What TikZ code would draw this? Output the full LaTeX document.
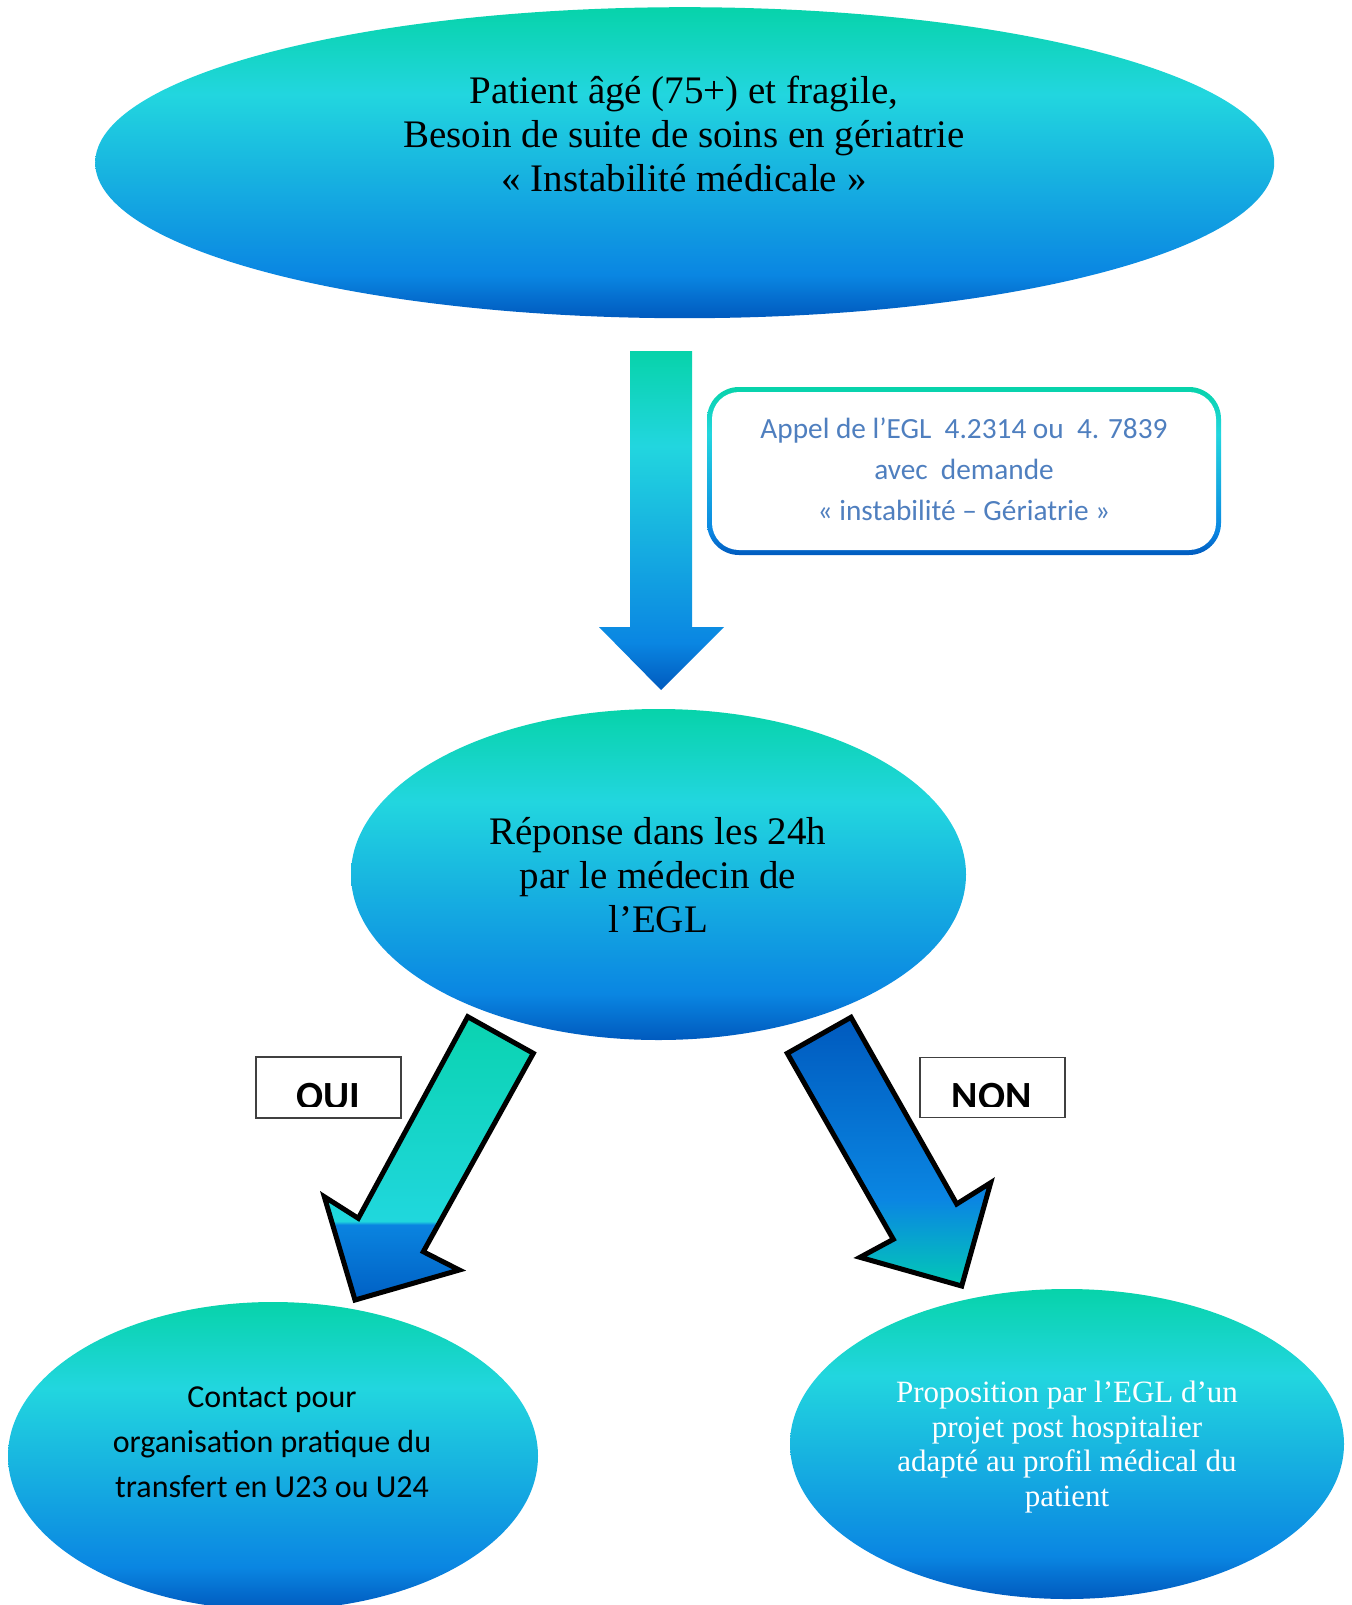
\documentclass[tikz,border=0pt]{standalone}
\usepackage{fontspec}
\setmainfont{Liberation Serif}
\newfontfamily\calfont{Carlito}
\usetikzlibrary{shapes.geometric}
\definecolor{greenx}{HTML}{07D3AA}
\definecolor{cyanx}{HTML}{22D6DF}
\definecolor{mblue}{HTML}{0A86E2}
\definecolor{dblue}{HTML}{005ABE}
\definecolor{ogreen}{HTML}{0AD3B0}
\definecolor{ocyan}{HTML}{20D7DD}
\definecolor{oblue}{HTML}{0A84E0}
\definecolor{odblue}{HTML}{0060C4}
\definecolor{nteal}{HTML}{03C9B6}
\definecolor{calltext}{HTML}{4F7FBF}
\pgfdeclareverticalshading{ellshade}{100bp}{color(0bp)=(dblue); color(25bp)=(dblue); color(32bp)=(mblue); color(61bp)=(cyanx); color(75bp)=(greenx); color(100bp)=(greenx)}
\pgfdeclareverticalshading{ouishade}{100bp}{color(0bp)=(odblue); color(25bp)=(odblue); color(38.3bp)=(oblue); color(38.9bp)=(ocyan); color(75bp)=(ogreen); color(100bp)=(ogreen)}
\pgfdeclareverticalshading{nonshade}{100bp}{color(0bp)=(nteal); color(25bp)=(nteal); color(41bp)=(mblue); color(75bp)=(dblue); color(100bp)=(dblue)}
\begin{document}
\begin{tikzpicture}[x=1pt,y=-1pt,
  ell/.style={ellipse, shading=ellshade, draw=none, inner sep=0pt},
  blockarrow/.style={draw=black, line width=5pt, line join=miter},
  labbox/.style={draw=black!75, line width=1.6pt, inner sep=0pt},
  serifbig/.style={align=center, font=\fontsize{39}{44}\selectfont, text=black},
  sansmid/.style={align=center, font=\calfont\fontsize{32}{45}\selectfont, text=black},
  bold/.style={font=\calfont\bfseries\fontsize{40}{40}\selectfont, anchor=base, inner sep=0pt}]
\useasboundingbox (0,0) rectangle (1351,1605);

% top ellipse
\node[ell, minimum width=1179pt, minimum height=311pt] (top) at (684.7,162.7) {};
\node[serifbig] (toptext) at (684,134) {Patient âgé (75+) et fragile,\\Besoin de suite de soins en gériatrie\\« Instabilité médicale »};

% vertical arrow
\path[shading=ellshade] (630,351) -- (692,351) -- (692,627) -- (724,627) -- (661,690) -- (599,627) -- (630,627) -- cycle;

% callout box
\path[shading=ellshade, rounded corners=32pt] (707,387) rectangle (1221,555);
\fill[white, rounded corners=27pt] (712,392) rectangle (1216,550);
\node[align=center, font=\calfont\fontsize{29.3}{41}\selectfont, text=calltext] (call) at (964,469)
  {Appel de l’EGL\ \ 4.2314 ou\ \ 4. 7839\\avec\ \ demande\\« instabilité – Gériatrie »};

% middle ellipse
\node[ell, minimum width=615pt, minimum height=331pt] (mid) at (658.5,874.5) {};
\node[serifbig] (midtext) at (658,875) {Réponse dans les 24h\\par le médecin de\\l’EGL};

% OUI arrow
\path[shading=ouishade, blockarrow] (467.7,1016.7) -- (533.3,1053.3) -- (423.3,1251.7) -- (459.3,1270) -- (355,1300) -- (324.3,1196.7) -- (358.3,1218.3) -- cycle;
% NON arrow
\path[shading=nonshade, blockarrow] (787.3,1053.3) -- (851,1017.3) -- (956.7,1204) -- (990.7,1182.7) -- (961.7,1286) -- (860,1257.3) -- (893.3,1239.3) -- cycle;

% OUI / NON boxes
\node[labbox, minimum width=145pt, minimum height=61pt] (ouibox) at (328.3,1087.6) {};
\begin{scope}
  \clip (256,1057) rectangle (401,1106);
  \node[bold] (oui) at (328,1109) {OUI};
\end{scope}
\node[labbox, minimum width=145pt, minimum height=60pt] (nonbox) at (992.5,1087.3) {};
\begin{scope}
  \clip (920,1057) rectangle (1065,1106);
  \node[bold] (non) at (991.5,1109) {NON};
\end{scope}

% bottom left ellipse
\node[ell, minimum width=530pt, minimum height=308pt] (left) at (273,1456) {};
\node[sansmid] (lefttext) at (272,1442) {Contact pour\\organisation pratique du\\transfert en U23 ou U24};

% bottom right ellipse
\node[ell, minimum width=554pt, minimum height=310pt] (right) at (1067,1444) {};
\node[align=center, font=\fontsize{31}{34.8}\selectfont, text=white] (righttext) at (1067,1447)
  {Proposition par l’EGL d’un\\projet post hospitalier\\adapté au profil médical du\\patient};
\end{tikzpicture}
\end{document}
